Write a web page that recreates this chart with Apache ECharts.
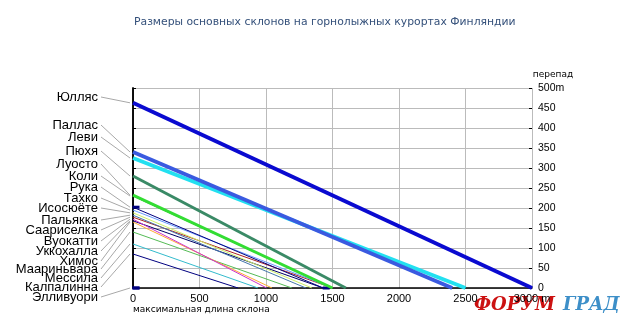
<!DOCTYPE html>
<html><head><meta charset="utf-8">
<script src="https://cdn.jsdelivr.net/npm/echarts@6/dist/echarts.min.js"></script>
<style>html,body{margin:0;padding:0;background:#fff}#c{width:623px;height:315px}</style>
</head><body><div id="c"></div>
<script>
var names = ['Юлляс','Паллас','Леви','Пюхя','Луосто','Коли','Рука','Тахко','Исосюёте','Пальякка','Саариселка','Вуокатти','Уккохалла','Химос','Маариньвара','Мессила','Калпалинна','Элливуори'];
var heights = [463,340,325,280,232,230,202,195,188,182,177,172,168,165,140,110,85,0];
var lengths = [3000,2400,2500,1600,1500,1500,1430,1500,1345,1300,1500,1005,1430,1045,1195,940,790,0];
var xTicks = [0,500,1000,1500,2000,2500,3000];
var yTicks = [0,50,100,150,200,250,300,350,400,450,500];

var colors = ['#0a0ad0','#3a5ae0','#22e0f0','#3a8a66','#33dd33','#2a7a2a','#000080','#6699ff','#ccee66','#4477aa','#aa2222','#cc33cc','#000066','#ffaa33','#55bb55','#33bbcc','#000080','#000080'];
var widths = [4,4,4,3,3,1,1,1,1,1,1,1,1,1,1,1,1,1];
var labelY = [97,125,137,151,164,176,187,198,208,220,230,241,251,261,269,278,287,297];

var chart = echarts.init(document.getElementById('c'), null, {renderer:'canvas'});
var series = names.map(function(n,i){
  return {
    type:'line', name:n, silent:true, animation:false,
    data:[[0,heights[i]],[lengths[i],0]],
    showSymbol: (i===6||i===17), symbol:'rect', symbolSize:[7,3], symbolOffset:[3,0],
    itemStyle:{color:colors[i]},
    lineStyle:{color:colors[i], width:widths[i]},
    z: 20-i
  };
});
series.reverse();
chart.setOption({
  animation:false,
  title:{text:'Размеры основных склонов на горнолыжных курортах Финляндии', left:129, top:12,
    textStyle:{fontFamily:'DejaVu Sans', fontSize:10.8, fontWeight:'normal', color:'#34507a'}},
  grid:{left:133, right:91, top:88, bottom:27},
  xAxis:{type:'value', min:0, max:3000, interval:500,
    axisLine:{lineStyle:{color:'#000', width:1.5}}, axisTick:{show:false},
    axisLabel:{color:'#000', fontFamily:'Liberation Sans', fontSize:11, margin:5,
      formatter:function(v){return v===3000?'3000 m':String(v);}},
    splitLine:{show:true, lineStyle:{color:'#bbbbbb'}},
    name:'максимальная длина склона', nameLocation:'start', nameGap:0,
    nameTextStyle:{fontFamily:'DejaVu Sans', fontSize:9, color:'#000', align:'left', verticalAlign:'top', padding:[17,0,0,0]}
  },
  yAxis:[
    {type:'value', position:'right', min:0, max:500, interval:50,
     axisLine:{show:true, lineStyle:{color:'#000', width:1.5}},
     axisTick:{show:true, length:3, lineStyle:{color:'#000'}},
     axisLabel:{color:'#000', fontFamily:'Liberation Sans', fontSize:10.5, margin:6,
       formatter:function(v){return v===500?'500m':String(v);}},
     splitLine:{show:true, lineStyle:{color:'#bbbbbb'}}
    },
    {type:'value', position:'right', min:0, max:500, interval:50,
     axisLine:{show:false}, axisTick:{show:true, inside:true, length:3, lineStyle:{color:'#000'}},
     axisLabel:{show:false}, splitLine:{show:false}},
    {type:'value', position:'left', min:0, max:500, interval:50,
     axisLine:{show:true, lineStyle:{color:'#000', width:1.5}}, axisTick:{show:false},
     axisLabel:{show:false}, splitLine:{show:false}}
  ],
  series:series
});

var g = [];
names.forEach(function(n,i){
  var p = chart.convertToPixel({gridIndex:0}, [0, heights[i]]);
  g.push({type:'line', silent:true, shape:{x1:101, y1:labelY[i], x2:p[0]-3, y2:p[1]},
    style:{stroke:'#a8a8a8', lineWidth:1}});
  g.push({type:'text', silent:true, x:98, y:labelY[i],
    style:{text:n, align:'right', verticalAlign:'middle', fill:'#000', font:'13px "Liberation Sans"'}});
});
var top500 = chart.convertToPixel({yAxisIndex:0}, 500);
g.push({type:'text', silent:true, x:553, y:top500-13, style:{text:'перепад', align:'center', verticalAlign:'middle', fill:'#000', font:'9px "DejaVu Sans"'}});
g.push({type:'text', silent:true, x:474, y:305, style:{text:'ФОРУМ', verticalAlign:'middle', fill:'#cc1111', font:'italic bold 18px "DejaVu Serif"'}});
g.push({type:'text', silent:true, x:563, y:305, style:{text:'ГРАД', verticalAlign:'middle', fill:'#3d8fc8', font:'italic bold 18px "DejaVu Serif"'}});
chart.setOption({graphic:g});
</script></body></html>
